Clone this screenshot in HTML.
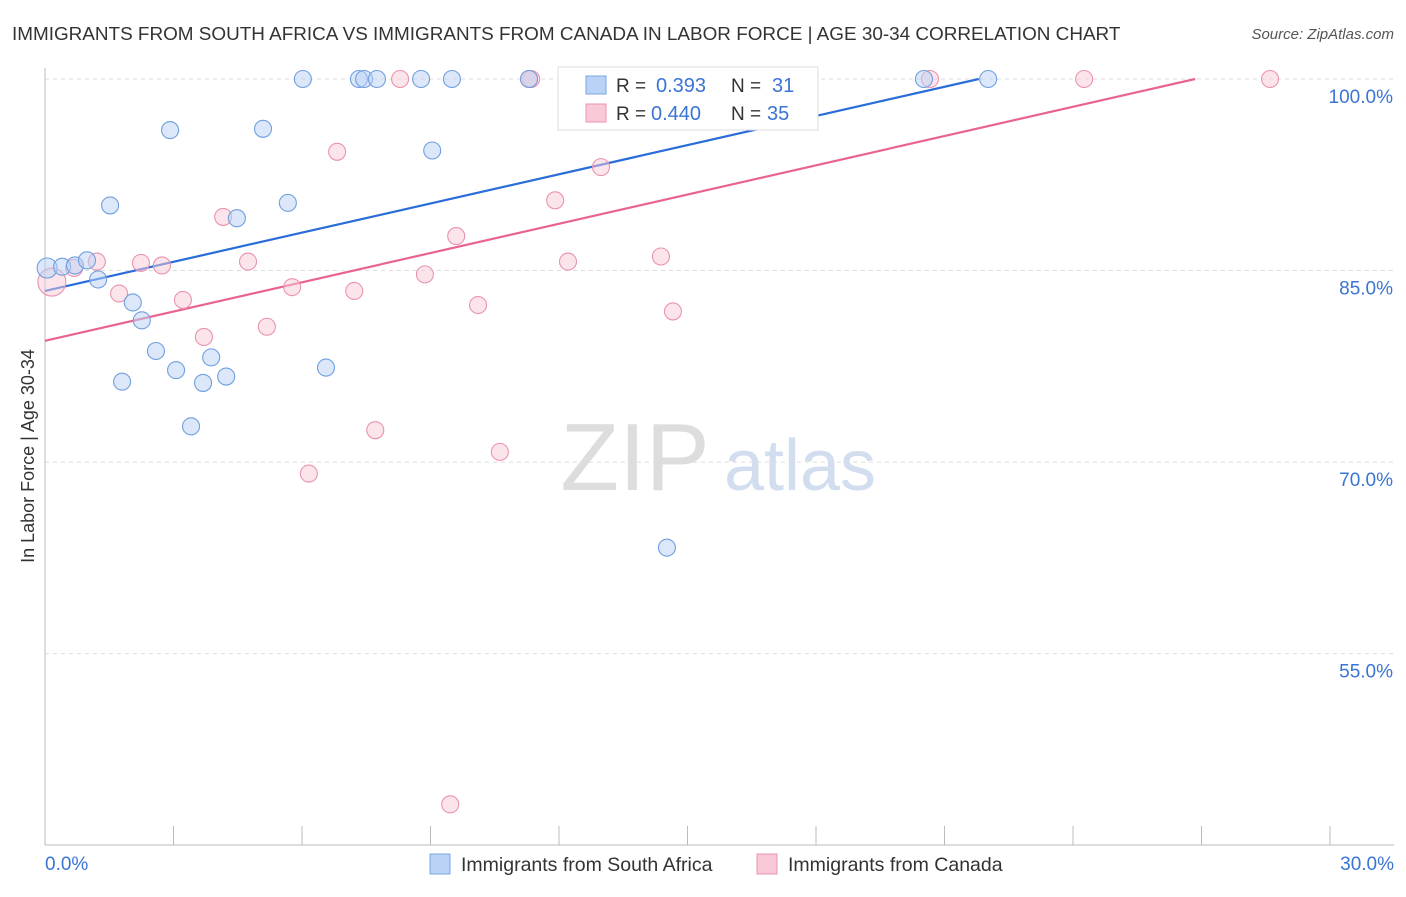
<!DOCTYPE html>
<html><head><meta charset="utf-8"><style>
body{margin:0;background:#fff;font-family:"Liberation Sans",sans-serif;}
svg text{font-family:"Liberation Sans",sans-serif;}
</style></head><body>
<svg id="chart" width="1406" height="892" xmlns="http://www.w3.org/2000/svg">
<text x="12" y="40" font-size="18.9" fill="#333">IMMIGRANTS FROM SOUTH AFRICA VS IMMIGRANTS FROM CANADA IN LABOR FORCE | AGE 30-34 CORRELATION CHART</text>
<text x="1394" y="39" font-size="15" fill="#555" font-style="italic" text-anchor="end">Source: ZipAtlas.com</text>
<text x="0" y="0" transform="translate(34,456) rotate(-90)" font-size="18" fill="#333" text-anchor="middle">In Labor Force | Age 30-34</text>
<g><text x="635" y="490" font-size="96" fill="#ddd" font-family="Liberation Serif" text-anchor="middle">ZIP</text><text x="800" y="490" font-size="72" fill="#d2def0" text-anchor="middle">atlas</text></g>
<g id="grid"></g><g id="axes"></g><g id="lines"></g><g id="points"></g>
<g>
<rect x="558" y="67" width="260" height="63" fill="#fff" stroke="#ddd"/>
<rect x="586" y="76" width="20" height="18" fill="#b9d2f5" stroke="#7aa6e3"/>
<text x="616" y="92" font-size="19" fill="#333">R = </text><text x="656" y="92" font-size="20" fill="#3a74d4">0.393</text>
<text x="731" y="92" font-size="19" fill="#333">N = </text><text x="772" y="92" font-size="20" fill="#3a74d4">31</text>
<rect x="586" y="104" width="20" height="18" fill="#f9c9d7" stroke="#eb93ae"/>
<text x="616" y="120" font-size="19" fill="#333">R = </text><text x="651" y="120" font-size="20" fill="#3a74d4">0.440</text>
<text x="731" y="120" font-size="19" fill="#333">N = </text><text x="767" y="120" font-size="20" fill="#3a74d4">35</text>
</g>
<g>
<rect x="430" y="854" width="20" height="20" fill="#b9d2f5" stroke="#7aa6e3"/>
<text x="461" y="871" font-size="19.5" fill="#333">Immigrants from South Africa</text>
<rect x="757" y="854" width="20" height="20" fill="#f9c9d7" stroke="#eb93ae"/>
<text x="788" y="871" font-size="19.5" fill="#333">Immigrants from Canada</text>
</g>
</svg>
<script>
const blueX=[0.05,0.40,0.70,0.98,1.24,1.52,1.80,2.05,2.26,2.59,2.92,3.06,3.41,3.69,3.88,4.23,4.48,5.09,5.67,6.02,6.56,7.33,7.45,7.75,8.78,9.04,9.50,11.30,14.52,20.52,22.02];
const blueY=[85.2,85.3,85.4,85.8,84.3,90.1,76.3,82.5,81.1,78.7,96.0,77.2,72.8,76.2,78.2,76.7,89.1,96.1,90.3,100,77.4,100,100,100,100,94.4,100,100,63.3,100,100];
const pinkX=[0.16,0.68,1.21,1.73,2.24,2.73,3.22,3.71,4.16,4.74,5.18,5.77,6.16,6.82,7.22,7.71,8.29,8.87,9.46,9.60,10.11,10.62,11.35,11.91,12.21,12.98,14.38,14.66,15.29,15.67,20.66,24.26,28.60,11.30,15.0];
const pinkY=[84.1,85.2,85.7,83.2,85.6,85.4,82.7,79.8,89.2,85.7,80.6,83.7,69.1,94.3,83.4,72.5,100,84.7,43.2,87.7,82.3,70.8,100,90.5,85.7,93.1,86.1,81.8,100,100,100,100,100,100,100];
const blueTrend=[83.4,100,21.8];
const pinkTrend=[79.5,100,26.85];
const yTicks=[100,85,70,55];
const yTickLabels=["100.0%","85.0%","70.0%","55.0%"];
const xTickLabels=["0.0%","30.0%"];
const NS="http://www.w3.org/2000/svg";
const sx=v=>45+v/30*1285, sy=v=>79+(100-v)*12.77;
function mk(t,a,p){const e=document.createElementNS(NS,t);for(const k in a)e.setAttribute(k,a[k]);document.getElementById(p).appendChild(e);return e;}
yTicks.forEach((v,i)=>{
 const l=mk('line',{x1:45,x2:1394,y1:sy(v),y2:sy(v),stroke:'#ddd','stroke-dasharray':'4,4'},'grid');
 
 
 const t=mk('text',{x:1393,y:sy(v)+24,'font-size':19,fill:'#3a74d4','text-anchor':'end'},'grid');t.textContent=yTickLabels[i];
 
 
});
const ax=mk('line',{x1:45,x2:45,y1:68,y2:845,stroke:'#bbb'},'axes');


const bx=mk('line',{x1:45,x2:1394,y1:845,y2:845,stroke:'#bbb'},'axes');


for(let i=0;i<=10;i++){const tk=mk('line',{x1:sx(i*3),x2:sx(i*3),y1:826,y2:845,stroke:'#bbb'},'axes');
 
 }
[[0,'start',45],[30,'end',1394]].forEach((d,i)=>{const t=mk('text',{x:d[2],y:870,'font-size':19,fill:'#3a74d4','text-anchor':d[1]},'axes');t.textContent=xTickLabels[i];
 
 });
function pts(X,Y,fill,stroke,name){X.forEach((x,i)=>{const r=i===0?(name==='blue-point'?10:14):8.5;
 const c=mk('circle',{cx:sx(x),cy:sy(Y[i]),r:r,fill:fill,'fill-opacity':0.5,stroke:stroke,'stroke-width':1.1},'points');
 
 });}
pts(pinkX,pinkY,'#f9c9d7','#eb93ae','pink-point');
pts(blueX,blueY,'#b9d2f5','#6f9fe0','blue-point');
function trend(tr,col,name){const s=(tr[1]-tr[0])/tr[2];
 const l=mk('line',{x1:sx(0),y1:sy(tr[0]),x2:sx(tr[2]),y2:sy(tr[0]+s*tr[2]),stroke:col,'stroke-width':2.2},'lines');
 
 }
trend(blueTrend,'#2a6dd9','blue-trend-line');
trend(pinkTrend,'#e8648f','pink-trend-line');
</script>
</body></html>
